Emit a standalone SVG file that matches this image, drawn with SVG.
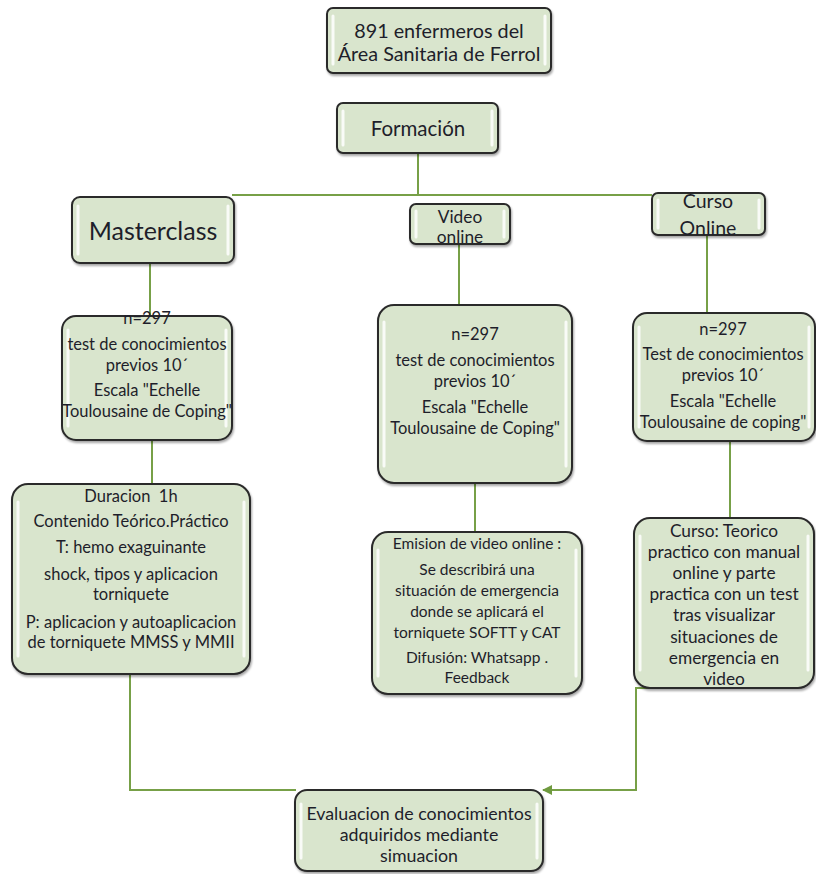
<svg xmlns="http://www.w3.org/2000/svg" width="816" height="874" viewBox="0 0 816 874">
<defs>
<marker id="arr" viewBox="0 0 10 10" refX="9" refY="5" markerWidth="5" markerHeight="5" orient="auto">
<path d="M0,0 L10,5 L0,10 z" fill="#6f9a3f"/>
</marker>
<filter id="sh" x="-10%" y="-10%" width="120%" height="130%">
<feDropShadow dx="1" dy="2" stdDeviation="1.2" flood-color="#000" flood-opacity="0.35"/>
</filter>
</defs>
<style>
.box{fill:#d9e5cd;stroke:#2a2a2a;stroke-width:2;filter:url(#sh)}
.hl{stroke:#ffffff;stroke-width:3;stroke-linecap:round;opacity:0.85}
.t{font-family:Lato,"Open Sans","Liberation Sans",sans-serif;fill:#1e1e2a;text-anchor:middle}
.s15{font-size:15.5px}
.s16{font-size:16.5px}
.s17{font-size:17.3px}
.s18{font-size:18px}
.c{fill:none;stroke:#77a047;stroke-width:2}
</style>
<rect width="816" height="874" fill="#ffffff"/>

<g id="connectors">
<path class="c" d="M418,153 V196"/>
<path class="c" d="M232,195 H652"/>
<path class="c" d="M150,263 V318"/>
<path class="c" d="M459,244 V306"/>
<path class="c" d="M707,235 V314"/>
<path class="c" d="M152,440 V485"/>
<path class="c" d="M475,483 V533"/>
<path class="c" d="M730,441 V519"/>
<path class="c" d="M130,674 V790 H296"/>
<path class="c" d="M730,688 H636 V790 H543" marker-end="url(#arr)"/>
</g>

<g id="n-enfermeros">
<rect class="box" x="327" y="8" width="224" height="65" rx="6"/>
<line class="hl" x1="333" y1="16" x2="333" y2="64"/><line class="hl" x1="545" y1="16" x2="545" y2="64"/>
<text class="t" style="font-size:19.8px" x="439" y="38">891 enfermeros del</text>
<text class="t" style="font-size:19.8px" x="439" y="61">Área Sanitaria de Ferrol</text>
</g>

<g id="n-formacion">
<rect class="box" x="337" y="103" width="161" height="50" rx="6"/>
<line class="hl" x1="343" y1="111" x2="343" y2="145"/><line class="hl" x1="492" y1="111" x2="492" y2="145"/>
<text class="t" style="font-size:20.5px" x="418" y="136">Formación</text>
</g>

<g id="n-masterclass">
<rect class="box" x="72" y="197" width="162" height="66" rx="8"/>
<line class="hl" x1="78" y1="206" x2="78" y2="254"/><line class="hl" x1="228" y1="206" x2="228" y2="254"/>
<text class="t" style="font-size:25px" x="153" y="240">Masterclass</text>
</g>

<g id="n-video">
<rect class="box" x="410" y="204" width="100" height="40" rx="6"/>
<line class="hl" x1="416" y1="211" x2="416" y2="237"/><line class="hl" x1="504" y1="211" x2="504" y2="237"/>
<text class="t s17" x="460" y="223">Video</text>
<text class="t s17" x="460" y="243">online</text>
</g>

<g id="n-curso">
<rect class="box" x="652" y="193" width="113" height="42" rx="6"/>
<line class="hl" x1="658" y1="200" x2="658" y2="228"/><line class="hl" x1="759" y1="200" x2="759" y2="228"/>
<text class="t" style="font-size:19.5px" x="708" y="208">Curso</text>
<text class="t" style="font-size:19.5px" x="708" y="235">Online</text>
</g>

<g id="n-test1">
<rect class="box" x="62" y="316" width="170" height="124" rx="14"/>
<line class="hl" x1="68" y1="330" x2="68" y2="426"/><line class="hl" x1="226" y1="330" x2="226" y2="426"/>
<text class="t s16" x="147" y="324">n=297</text>
<text class="t s16" x="147" y="350">test de conocimientos</text>
<text class="t s16" x="147" y="371">previos 10´</text>
<text class="t s16" x="147" y="396">Escala "Echelle</text>
<text class="t s16" x="147" y="417">Toulousaine de Coping"</text>
</g>

<g id="n-test2">
<rect class="box" x="378" y="305" width="194" height="178" rx="16"/>
<line class="hl" x1="384" y1="322" x2="384" y2="466"/><line class="hl" x1="566" y1="322" x2="566" y2="466"/>
<text class="t s16" x="475" y="340">n=297</text>
<text class="t s16" x="475" y="366">test de conocimientos</text>
<text class="t s16" x="475" y="387">previos 10´</text>
<text class="t s16" x="475" y="413">Escala "Echelle</text>
<text class="t s16" x="475" y="434">Toulousaine de Coping"</text>
</g>

<g id="n-test3">
<rect class="box" x="633" y="313" width="182" height="128" rx="14"/>
<line class="hl" x1="639" y1="327" x2="639" y2="427"/><line class="hl" x1="809" y1="327" x2="809" y2="427"/>
<text class="t s16" x="723" y="335">n=297</text>
<text class="t s16" x="723" y="360">Test de conocimientos</text>
<text class="t s16" x="723" y="381">previos 10´</text>
<text class="t s16" x="723" y="407">Escala "Echelle</text>
<text class="t s16" x="723" y="428">Toulousaine de coping"</text>
</g>

<g id="n-master-content">
<rect class="box" x="12" y="484" width="238" height="190" rx="16"/>
<line class="hl" x1="18" y1="502" x2="18" y2="656"/><line class="hl" x1="244" y1="502" x2="244" y2="656"/>
<text class="t s16" x="131" y="502">Duracion&#160; 1h</text>
<text class="t s16" x="131" y="527">Contenido Teórico.Práctico</text>
<text class="t s16" x="131" y="553">T: hemo exaguinante</text>
<text class="t s16" x="131" y="580">shock, tipos y aplicacion</text>
<text class="t s16" x="131" y="600">torniquete</text>
<text class="t s16" x="131" y="628">P: aplicacion y autoaplicacion</text>
<text class="t s16" x="131" y="648">de torniquete MMSS y MMII</text>
</g>

<g id="n-video-content">
<rect class="box" x="372" y="532" width="210" height="162" rx="16"/>
<line class="hl" x1="378" y1="550" x2="378" y2="676"/><line class="hl" x1="576" y1="550" x2="576" y2="676"/>
<text class="t s15" x="477" y="549">Emision de video online :</text>
<text class="t s15" x="477" y="575">Se describirá una</text>
<text class="t s15" x="477" y="596">situación de emergencia</text>
<text class="t s15" x="477" y="617">donde se aplicará el</text>
<text class="t s15" x="477" y="638">torniquete SOFTT y CAT</text>
<text class="t s15" x="477" y="663">Difusión: Whatsapp .</text>
<text class="t s15" x="477" y="683">Feedback</text>
</g>

<g id="n-curso-content">
<rect class="box" x="634" y="518" width="180" height="170" rx="16"/>
<line class="hl" x1="640" y1="536" x2="640" y2="670"/><line class="hl" x1="808" y1="536" x2="808" y2="670"/>
<text class="t s17" x="724" y="537">Curso: Teorico</text>
<text class="t s17" x="724" y="558">practico con manual</text>
<text class="t s17" x="724" y="579">online y parte</text>
<text class="t s17" x="724" y="600">practica con un test</text>
<text class="t s17" x="724" y="621">tras visualizar</text>
<text class="t s17" x="724" y="643">situaciones de</text>
<text class="t s17" x="724" y="664">emergencia en</text>
<text class="t s17" x="724" y="685">video</text>
</g>

<g id="n-evaluacion">
<rect class="box" x="295" y="790" width="248" height="81" rx="12"/>
<line class="hl" x1="301" y1="804" x2="301" y2="858"/><line class="hl" x1="537" y1="804" x2="537" y2="858"/>
<text class="t" style="font-size:17.8px" x="419" y="820">Evaluacion de conocimientos</text>
<text class="t" style="font-size:17.8px" x="419" y="841">adquiridos mediante</text>
<text class="t" style="font-size:17.8px" x="419" y="862">simuacion</text>
</g>
</svg>
